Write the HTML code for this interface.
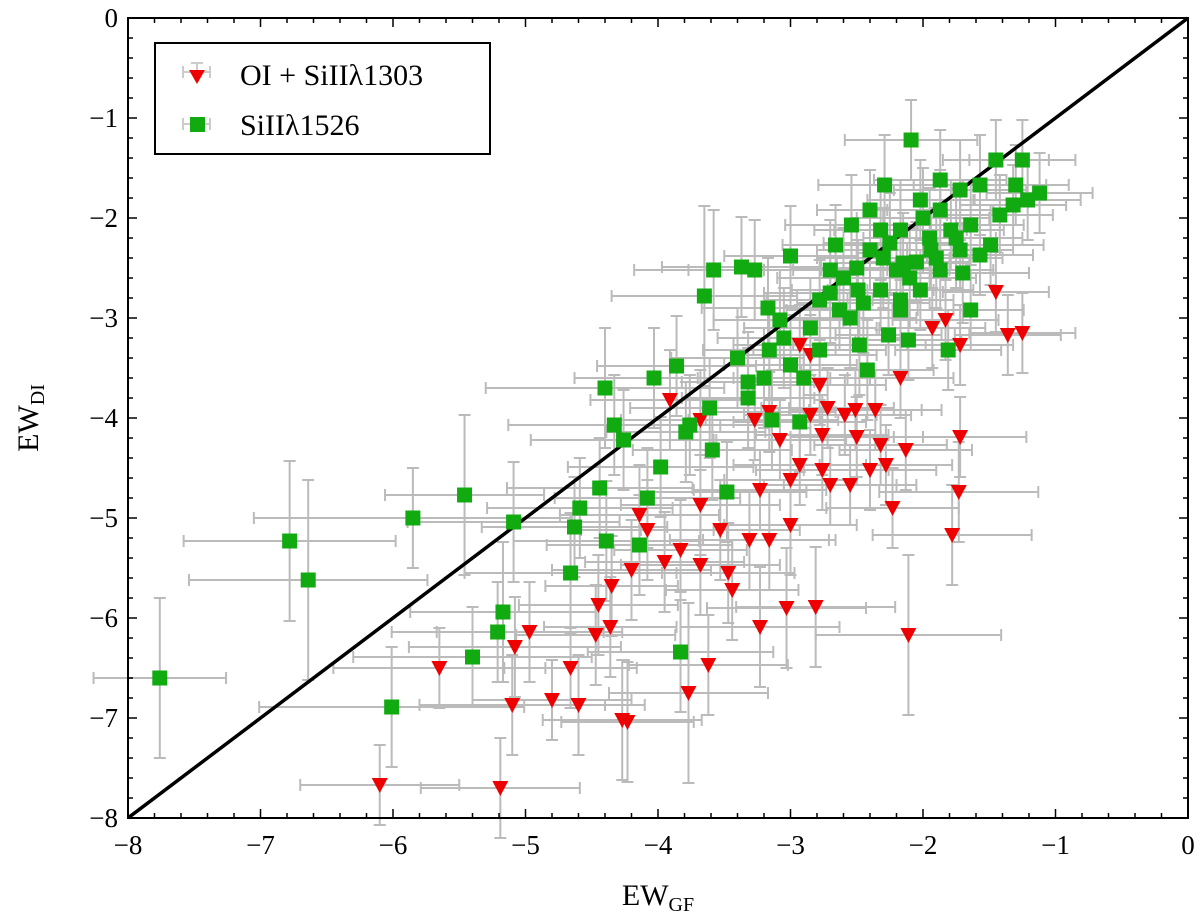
<!DOCTYPE html>
<html><head><meta charset="utf-8"><style>
body{margin:0;background:#fff;width:1200px;height:921px;overflow:hidden}
svg{display:block;font-family:"Liberation Serif","DejaVu Serif",serif}
</style></head><body>
<svg id="chart" width="1200" height="921"></svg>
<script>
// data: [EW_GF, EW_DI, xerr, yerr]
const redPts=[[-6.10,-7.67,0.6,0.4],[-5.19,-7.70,0.6,0.5],[-5.65,-6.50,0.8,0.4],[-5.10,-6.87,0.7,0.5],[-4.80,-6.82,0.6,0.4],[-4.60,-6.87,0.5,0.5],[-4.27,-7.02,0.6,0.6],[-4.23,-7.04,0.5,0.6],[-3.77,-6.75,0.6,0.9],[-3.62,-6.47,0.6,0.5],[-4.66,-6.50,0.5,0.4],[-4.97,-6.14,0.7,0.5],[-5.08,-6.29,0.8,0.5],[-4.47,-6.17,0.6,0.5],[-4.36,-6.09,0.5,0.5],[-4.45,-5.87,0.6,0.5],[-4.20,-5.52,0.6,0.5],[-4.35,-5.68,0.5,0.5],[-3.95,-5.44,0.6,0.5],[-3.83,-5.32,0.5,0.5],[-3.68,-4.87,0.6,0.5],[-4.14,-4.97,0.6,0.5],[-4.08,-5.12,0.5,0.5],[-3.23,-4.72,0.5,0.4],[-3.00,-4.62,0.5,0.4],[-2.93,-4.47,0.5,0.4],[-2.70,-4.67,0.5,0.4],[-2.55,-4.67,0.5,0.4],[-2.40,-4.52,0.5,0.4],[-2.28,-4.47,0.5,0.4],[-2.76,-4.52,0.5,0.4],[-2.50,-4.19,0.5,0.4],[-2.32,-4.27,0.5,0.4],[-2.13,-4.32,0.5,0.4],[-1.72,-4.19,0.5,0.4],[-1.73,-4.74,0.6,0.5],[-2.23,-4.90,0.5,0.4],[-1.78,-5.17,0.6,0.5],[-2.11,-6.17,0.7,0.8],[-3.03,-5.90,0.6,0.6],[-2.81,-5.89,0.6,0.6],[-3.23,-6.09,0.6,0.6],[-3.31,-5.22,0.6,0.5],[-3.16,-5.22,0.5,0.5],[-3.00,-5.07,0.5,0.5],[-3.53,-5.12,0.6,0.5],[-3.47,-5.55,0.5,0.5],[-3.44,-5.72,0.5,0.5],[-3.68,-5.47,0.6,0.5],[-3.91,-3.82,0.6,0.5],[-3.27,-4.02,0.5,0.4],[-3.16,-3.94,0.5,0.4],[-3.08,-4.22,0.5,0.4],[-2.85,-3.97,0.5,0.4],[-2.76,-4.17,0.5,0.4],[-2.72,-3.90,0.5,0.4],[-2.59,-3.97,0.5,0.4],[-2.51,-3.92,0.5,0.4],[-2.36,-3.92,0.5,0.4],[-2.17,-3.60,0.4,0.4],[-1.93,-3.10,0.4,0.4],[-1.83,-3.02,0.4,0.4],[-1.72,-3.27,0.4,0.4],[-1.45,-2.74,0.4,0.4],[-1.36,-3.17,0.4,0.4],[-1.25,-3.15,0.4,0.4],[-2.85,-3.37,0.5,0.4],[-2.93,-3.27,0.5,0.4],[-2.78,-3.67,0.5,0.4],[-3.68,-4.02,0.6,0.5]];
const greenPts=[[-7.76,-6.60,0.5,0.8],[-6.78,-5.23,0.8,0.8],[-6.64,-5.62,0.9,1.0],[-6.01,-6.89,1.0,0.6],[-5.85,-5.00,1.2,0.5],[-5.46,-4.77,0.6,0.8],[-5.40,-6.39,0.9,0.5],[-5.21,-6.14,0.8,0.5],[-5.17,-5.94,0.7,0.7],[-5.09,-5.04,0.8,0.6],[-4.66,-5.55,0.8,0.6],[-4.63,-5.09,0.7,0.5],[-4.59,-4.90,0.7,0.5],[-4.44,-4.70,0.7,0.5],[-4.39,-5.23,0.7,0.6],[-4.40,-3.70,0.9,0.6],[-4.33,-4.07,0.8,0.5],[-4.26,-4.22,0.7,0.5],[-4.14,-5.27,0.7,0.5],[-4.08,-4.80,0.7,0.5],[-3.98,-4.49,0.7,0.5],[-4.03,-3.60,0.6,0.5],[-3.79,-4.14,0.6,0.5],[-3.76,-4.07,0.6,0.5],[-3.83,-6.34,0.7,0.6],[-3.86,-3.48,0.6,0.5],[-3.61,-3.90,0.6,0.5],[-3.59,-4.32,0.6,0.5],[-3.48,-4.74,0.6,0.5],[-3.65,-2.78,0.7,0.9],[-3.58,-2.52,0.6,0.6],[-3.37,-2.49,0.6,0.5],[-3.27,-2.52,0.5,0.5],[-3.00,-2.38,0.5,0.5],[-3.17,-2.90,0.5,0.5],[-3.08,-3.02,0.5,0.5],[-3.32,-3.64,0.5,0.5],[-3.32,-3.80,0.5,0.5],[-3.16,-3.32,0.5,0.5],[-3.14,-4.02,0.5,0.5],[-2.93,-4.04,0.5,0.5],[-3.00,-3.47,0.5,0.5],[-2.78,-3.32,0.5,0.5],[-2.70,-2.52,0.5,0.5],[-2.49,-2.72,0.5,0.5],[-2.48,-3.27,0.5,0.5],[-2.42,-3.52,0.5,0.5],[-2.54,-2.07,0.5,0.5],[-2.32,-2.12,0.5,0.5],[-2.17,-2.12,0.5,0.5],[-2.29,-1.67,0.5,0.5],[-2.09,-1.22,0.5,0.4],[-1.87,-1.62,0.5,0.5],[-1.72,-1.72,0.5,0.5],[-1.57,-1.67,0.5,0.5],[-1.25,-1.42,0.4,0.4],[-1.45,-1.42,0.4,0.4],[-1.12,-1.75,0.4,0.4],[-1.21,-1.82,0.4,0.4],[-1.42,-1.97,0.4,0.4],[-1.64,-2.07,0.4,0.4],[-1.79,-2.12,0.4,0.4],[-1.94,-2.32,0.4,0.4],[-2.05,-2.44,0.4,0.4],[-2.20,-2.52,0.4,0.4],[-2.32,-2.72,0.4,0.4],[-2.17,-2.82,0.4,0.4],[-1.72,-2.32,0.4,0.4],[-1.57,-2.37,0.4,0.4],[-1.49,-2.27,0.4,0.4],[-1.87,-2.52,0.4,0.4],[-2.02,-2.72,0.4,0.4],[-2.17,-2.92,0.4,0.4],[-1.64,-2.92,0.4,0.4],[-1.81,-3.32,0.4,0.4],[-2.11,-3.22,0.4,0.4],[-2.26,-3.17,0.4,0.4],[-2.63,-2.92,0.4,0.4],[-2.78,-2.82,0.4,0.4],[-2.66,-2.27,0.4,0.4],[-2.40,-2.32,0.4,0.4],[-1.30,-1.67,0.4,0.4],[-1.32,-1.87,0.4,0.4],[-1.87,-1.92,0.4,0.4],[-2.02,-1.82,0.4,0.4],[-2.40,-1.92,0.4,0.4],[-2.30,-2.40,0.5,0.5],[-2.10,-2.60,0.5,0.5],[-1.90,-2.40,0.5,0.5],[-2.50,-2.50,0.5,0.5],[-2.00,-2.00,0.5,0.5],[-1.75,-2.20,0.5,0.5],[-2.25,-2.25,0.5,0.5],[-2.60,-2.60,0.5,0.5],[-2.45,-2.85,0.5,0.5],[-2.15,-2.45,0.5,0.5],[-1.95,-2.20,0.5,0.5],[-1.70,-2.55,0.5,0.5],[-2.70,-2.75,0.5,0.5],[-2.55,-3.00,0.5,0.5],[-3.05,-3.20,0.5,0.5],[-2.90,-3.60,0.5,0.5],[-2.85,-3.10,0.5,0.5],[-3.20,-3.60,0.5,0.5],[-3.40,-3.40,0.5,0.5]];
const xTicks=[-8,-7,-6,-5,-4,-3,-2,-1,0];
const yTicks=[0,-1,-2,-3,-4,-5,-6,-7,-8];

const L=128,R=1188,T=18,B=818;
const sx=v=>L+(v+8)/8*(R-L);
const sy=v=>T+(0-v)/8*(B-T);
const svg=document.getElementById('chart');
const NS='http://www.w3.org/2000/svg';
function mk(tag,attrs,parent){const e=document.createElementNS(NS,tag);for(const k in attrs)e.setAttribute(k,attrs[k]);(parent||svg).appendChild(e);return e;}

const errG=mk('g',{stroke:'#bbbbbb','stroke-width':2,fill:'none'});


function errs(pts){pts.forEach(p=>{const x=sx(p[0]),y=sy(p[1]),x1=sx(p[0]-p[2]),x2=sx(p[0]+p[2]),y1=sy(p[1]+p[3]),y2=sy(p[1]-p[3]);
 mk('path',{d:`M${x1},${y}H${x2}M${x1},${y-6}V${y+6}M${x2},${y-6}V${y+6}M${x},${y1}V${y2}M${x-6},${y1}H${x+6}M${x-6},${y2}H${x+6}`},errG);});}
errs(redPts);errs(greenPts);

const line=mk('line',{x1:sx(-8),y1:sy(-8),x2:sx(0),y2:sy(0),stroke:'#000','stroke-width':3.5});



const rg=mk('g',{fill:'#ee0000'});


redPts.forEach(p=>{const x=sx(p[0]),y=sy(p[1]);const m=mk('path',{d:`M${x-8},${y-7}H${x+8}L${x},${y+8}Z`},rg);
 
 });
const gg=mk('g',{fill:'#11aa11'});


greenPts.forEach(p=>{const x=sx(p[0]),y=sy(p[1]);const m=mk('rect',{x:x-7.5,y:y-7.5,width:15,height:15},gg);
 
 });

const frame=mk('rect',{x:L,y:T,width:R-L,height:B-T,fill:'none',stroke:'#000','stroke-width':2});


const tk=mk('g',{stroke:'#000','stroke-width':1.5});
for(let v=-8;v<=0.001;v+=0.2){const x=sx(v),y=sy(v);const major=Math.abs(v-Math.round(v))<0.01;const len=major?9:5;
 mk('path',{d:`M${x},${B}V${B-len}M${x},${T}V${T+len}M${L},${y}H${L+len}M${R},${y}H${R-len}`},tk);}
xTicks.forEach(v=>{const t=mk('text',{x:sx(v),y:B+36,'text-anchor':'middle','font-size':27});t.textContent=v<0?'\u2212'+(-v):v;
 
 });
yTicks.forEach(v=>{const t=mk('text',{x:L-10,y:sy(v)+9,'text-anchor':'end','font-size':27});t.textContent=v<0?'\u2212'+(-v):v;
 
 });
</script>
<svg style="position:absolute;left:0;top:0" width="1200" height="921">
<text x="658" y="905" text-anchor="middle" font-size="30">EW<tspan font-size="20" dy="6">GF</tspan></text>
<text transform="translate(38,418) rotate(-90)" text-anchor="middle" font-size="30">EW<tspan font-size="20" dy="6">DI</tspan></text>
<g>
<rect x="155" y="43" width="335" height="111" fill="#fff" stroke="#000" stroke-width="2"/>
<g>
<path d="M183,72H210M183,66V78M210,66V78M197,63V81M191,63H203" stroke="#ccc" stroke-width="2"/>
<path d="M189,70H205L197,84Z" fill="#ee0000"/>
<text x="240" y="85" font-size="30">OI + SiII&#955;1303</text></g>
<g>
<path d="M183,124H210M183,118V130M210,118V130" stroke="#ccc" stroke-width="2"/>
<rect x="190" y="117" width="15" height="15" fill="#11aa11"/>
<text x="240" y="135" font-size="30">SiII&#955;1526</text></g>
</g>
</svg>
</body></html>
